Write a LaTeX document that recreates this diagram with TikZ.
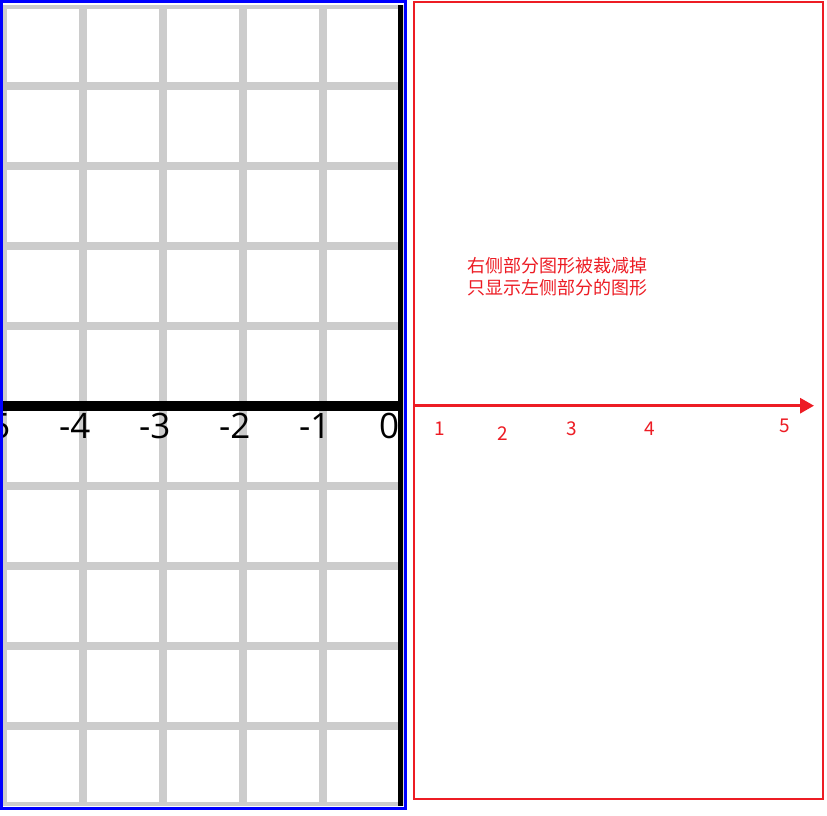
\documentclass[tikz,border=0pt]{standalone}
\usepackage{fontspec}
\setmainfont{Open Sans}
\newfontfamily\cjk{Noto Sans CJK SC}
\usetikzlibrary{arrows.meta}
\definecolor{gridgray}{HTML}{CCCCCC}
\definecolor{rred}{RGB}{237,28,36}
\begin{document}
\begin{tikzpicture}[x=1pt,y=-1pt,
  gridline/.style={draw=gridgray,line width=8pt},
  axisline/.style={draw=black,line width=10pt},
  axislabel/.style={anchor=base west,inner sep=0pt,font=\fontsize{35}{40}\selectfont,text=black},
  redlabel/.style={anchor=center,inner sep=0pt,font=\cjk\fontsize{19}{22}\selectfont,text=rred},
  note/.style={anchor=base west,inner sep=0pt,font=\cjk\fontsize{18}{22}\selectfont,text=rred}]
\useasboundingbox (0,0) rectangle (827,816);
\fill[white] (0,0) rectangle (827,816);
% left clipped panel
\begin{scope}
  \clip (3,5.5) rectangle (403,805.5);
  \foreach \i in {0,...,5} \draw[gridline] (3+80*\i,5.5) -- (3+80*\i,805.5);
  \foreach \j in {0,...,10} \draw[gridline] (3,5.5+80*\j) -- (403,5.5+80*\j);
  \draw[axisline] (3,405.5) -- (403,405.5);
  \draw[axisline] (403,5.5) -- (403,805.5);
  \node[axislabel] (lm5) at (-21,438.7) {-5};
  \node[axislabel] (lm4) at (59,438.7) {-4};
  \node[axislabel] (lm3) at (139,438.7) {-3};
  \node[axislabel] (lm2) at (219,438.7) {-2};
  \node[axislabel] (lm1) at (299,438.7) {-1};
  \node[axislabel] (l0) at (379,438.7) {0};
\end{scope}
\draw[blue,line width=3pt] (1.5,1.5) rectangle (405.3,808.5);
% right panel
\draw[rred,line width=2pt] (413.7,2) rectangle (822.7,798.7);
\coordinate (arrowstart) at (413.7,405.7);
\coordinate (arrowend) at (814,405.7);
\draw[rred,line width=3pt,-{Triangle[length=14pt,width=15pt]}] (arrowstart) -- (arrowend);
\node[redlabel] (r1) at (440,429) {1};
\node[redlabel] (r2) at (503,434) {2};
\node[redlabel] (r3) at (572,429) {3};
\node[redlabel] (r4) at (650,429) {4};
\node[redlabel] (r5) at (785,426) {5};
\node[note] (note1) at (467,272) {右侧部分图形被裁减掉};
\node[note] (note2) at (467,294) {只显示左侧部分的图形};
\end{tikzpicture}
\end{document}
